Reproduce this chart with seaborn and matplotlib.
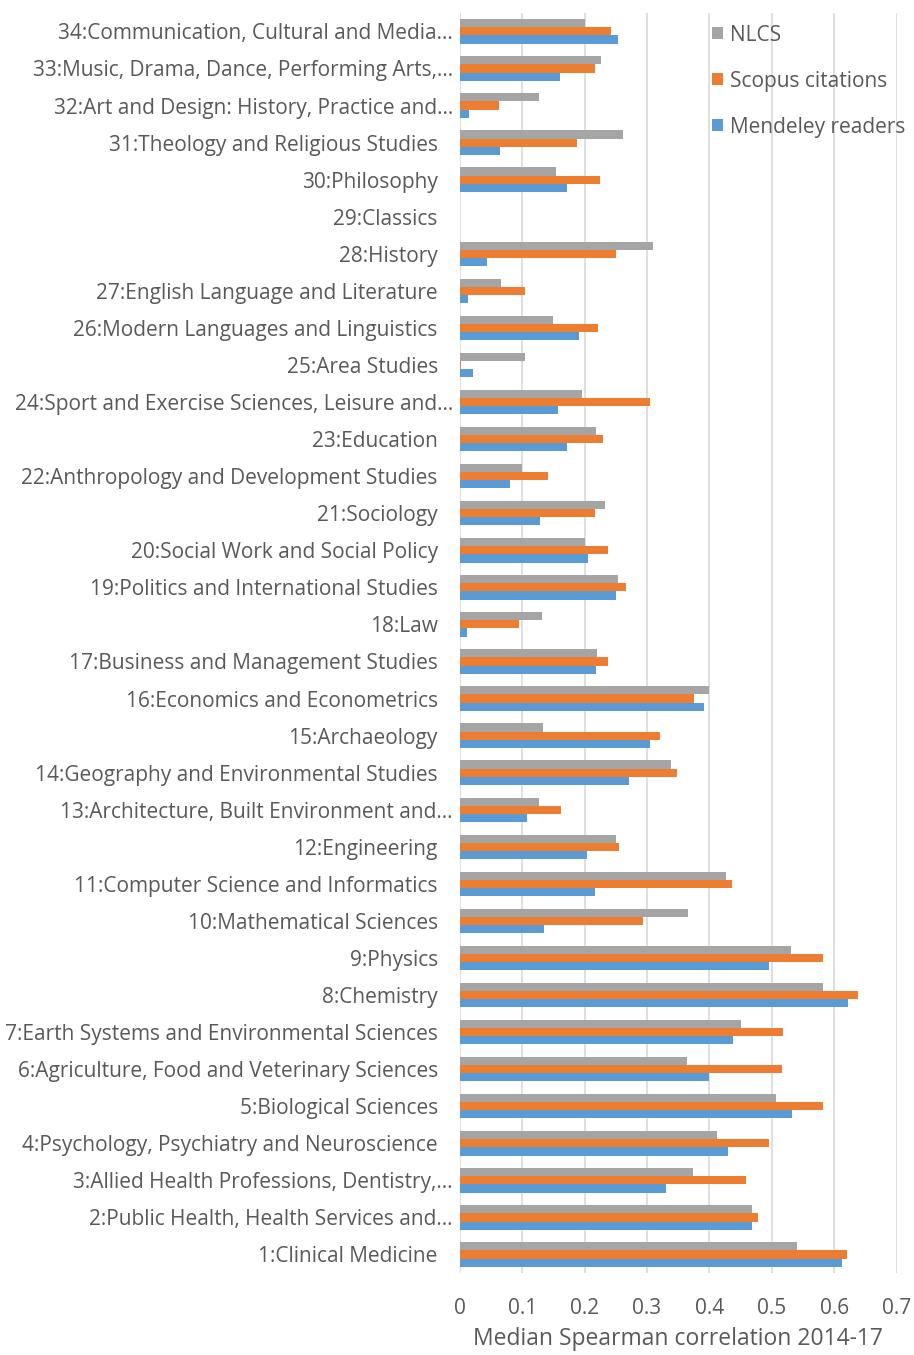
import numpy as np
import pandas as pd
import matplotlib
matplotlib.use('Agg')
import matplotlib.pyplot as plt
import matplotlib.transforms as mtransforms
import seaborn as sns

# categories listed top to bottom (34 down to 1)
categories = [
    '34:Communication, Cultural and Media...',
    '33:Music, Drama, Dance, Performing Arts,...',
    '32:Art and Design: History, Practice and...',
    '31:Theology and Religious Studies',
    '30:Philosophy',
    '29:Classics',
    '28:History',
    '27:English Language and Literature',
    '26:Modern Languages and Linguistics',
    '25:Area Studies',
    '24:Sport and Exercise Sciences, Leisure and...',
    '23:Education',
    '22:Anthropology and Development Studies',
    '21:Sociology',
    '20:Social Work and Social Policy',
    '19:Politics and International Studies',
    '18:Law',
    '17:Business and Management Studies',
    '16:Economics and Econometrics',
    '15:Archaeology',
    '14:Geography and Environmental Studies',
    '13:Architecture, Built Environment and...',
    '12:Engineering',
    '11:Computer Science and Informatics',
    '10:Mathematical Sciences',
    '9:Physics',
    '8:Chemistry',
    '7:Earth Systems and Environmental Sciences',
    '6:Agriculture, Food and Veterinary Sciences',
    '5:Biological Sciences',
    '4:Psychology, Psychiatry and Neuroscience',
    '3:Allied Health Professions, Dentistry,...',
    '2:Public Health, Health Services and...',
    '1:Clinical Medicine',
]

nlcs = [0.201, 0.226, 0.127, 0.262, 0.155, np.nan, 0.310, 0.066, 0.150, 0.105,
        0.196, 0.218, 0.099, 0.232, 0.201, 0.253, 0.132, 0.220, 0.400, 0.133,
        0.338, 0.127, 0.250, 0.426, 0.366, 0.530, 0.582, 0.451, 0.364, 0.506,
        0.412, 0.374, 0.468, 0.541]
scopus = [0.243, 0.216, 0.063, 0.188, 0.224, np.nan, 0.250, 0.105, 0.221, 0.002,
          0.305, 0.229, 0.142, 0.216, 0.237, 0.266, 0.095, 0.238, 0.375, 0.321,
          0.348, 0.163, 0.255, 0.436, 0.294, 0.582, 0.638, 0.518, 0.517, 0.582,
          0.495, 0.459, 0.478, 0.621]
mendeley = [0.253, 0.160, 0.015, 0.065, 0.172, np.nan, 0.044, 0.014, 0.191, 0.021,
            0.157, 0.172, 0.081, 0.128, 0.206, 0.250, 0.011, 0.218, 0.392, 0.305,
            0.271, 0.108, 0.204, 0.216, 0.135, 0.495, 0.622, 0.438, 0.399, 0.533,
            0.430, 0.331, 0.469, 0.612]

series_names = ['NLCS', 'Scopus citations', 'Mendeley readers']
colors = ['#A5A5A5', '#ED7D31', '#5B9BD5']
x_ticks = [0, 0.1, 0.2, 0.3, 0.4, 0.5, 0.6, 0.7]
x_tick_labels = ['0', '0.1', '0.2', '0.3', '0.4', '0.5', '0.6', '0.7']


def build_frame():
    rows = []
    for name, vals in zip(series_names, [nlcs, scopus, mendeley]):
        for cat, v in zip(categories, vals):
            rows.append({'Panel': cat, 'Indicator': name, 'Correlation': v})
    return pd.DataFrame(rows)


def make_chart():
    df = build_frame()
    sns.set_theme(style='white')
    plt.rcParams['font.family'] = ['Open Sans', 'DejaVu Sans']

    fig = plt.figure(figsize=(9.14, 13.55), dpi=100)
    ax = fig.add_axes([0.503, 0.0605, 0.478, 0.930])

    sns.barplot(data=df, y='Panel', x='Correlation', hue='Indicator',
                order=categories, hue_order=series_names,
                palette=colors, orient='h', width=0.66, saturation=1,
                errorbar=None, linewidth=0, ax=ax)

    ax.set_xlim(0, 0.7)
    ax.set_xticks(x_ticks)
    ax.set_xticklabels(x_tick_labels)
    ax.xaxis.grid(True, color='#D9D9D9', linewidth=1.2)
    ax.set_axisbelow(True)
    for s in ax.spines.values():
        s.set_visible(False)
    ax.tick_params(axis='both', length=0, colors='#595959', labelsize=15)
    ax.tick_params(axis='y', pad=5)
    ax.tick_params(axis='x', pad=18)
    ax.set_ylabel('')
    ax.set_xlabel('Median Spearman correlation 2014-17', fontsize=16.5,
                  color='#595959', labelpad=6)

    # untruncated labels sit a little further from the axis
    shift = mtransforms.ScaledTranslation(-15 / 100, 0, fig.dpi_scale_trans)
    for lab in ax.get_yticklabels():
        if not lab.get_text().endswith('...'):
            lab.set_transform(lab.get_transform() + shift)

    leg = ax.legend(loc='upper right', bbox_to_anchor=(1.0, 0.988),
                    bbox_transform=fig.transFigure, frameon=False,
                    fontsize=15, handlelength=0.55, handleheight=0.55,
                    handletextpad=0.35, labelspacing=1.2, borderaxespad=0)
    for t in leg.get_texts():
        t.set_color('#595959')

    fig.savefig('out.png', dpi=100)
    plt.close(fig)


if __name__ == '__main__':
    make_chart()
